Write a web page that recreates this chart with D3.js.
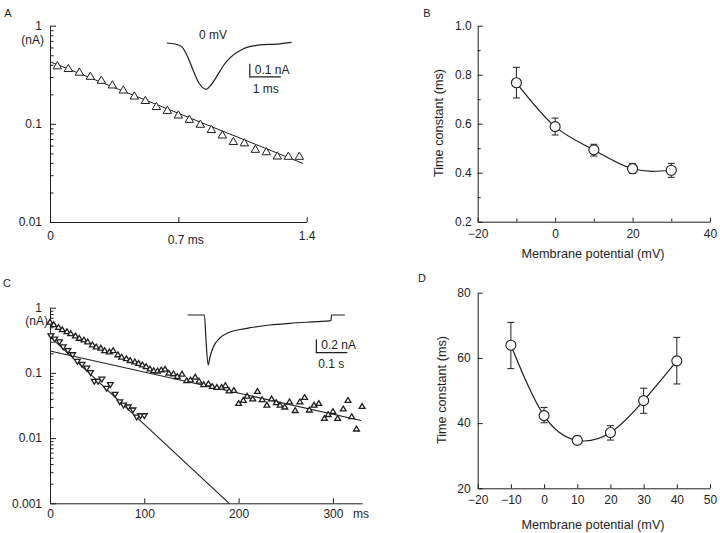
<!DOCTYPE html>
<html><head><meta charset="utf-8">
<script src="https://cdn.jsdelivr.net/npm/d3@7"></script>
<style>body{margin:0;background:#fff}svg{display:block;font-family:"Liberation Sans",Arial,sans-serif}</style>
</head><body><svg id="c" width="720" height="533"></svg>
<script>
// ---------- Panel A data ----------
const aTime = [0.04,0.10,0.16,0.22,0.28,0.34,0.40,0.46,0.52,0.58,0.64,0.70,0.76,0.82,0.88,0.94,1.00,1.06,1.12,1.18,1.24,1.30,1.36];
const aCurrent = [0.39,0.366,0.336,0.305,0.278,0.249,0.221,0.192,0.173,0.150,0.137,0.123,0.111,0.099,0.0875,0.077,0.066,0.064,0.055,0.052,0.047,0.0467,0.0467];
const aFitTime = [0, 1.38];
const aFitCurrent = [0.43, 0.0395];
const aTicksX = [0, 0.7, 1.4];
const aTickLabelsX = ["0", "0.7 ms", "1.4"];
const logTicks = [0.001, 0.01, 0.1, 1];
const logTickLabels = ["0.001", "0.01", "0.1", "1"];
// inset A trace (ms, nA)
const aTraceTime = [0,0.27,0.48,0.65,0.85,1.04,1.27,1.43,1.61,1.82,2.04,2.46,3.01,3.55,4.03];
const aTraceCurrent = [0,-0.008,-0.028,-0.092,-0.208,-0.308,-0.356,-0.323,-0.259,-0.177,-0.115,-0.046,-0.015,-0.008,0.005];

// ---------- Panel B data ----------
const bVoltage = [-10, 0, 10, 20, 30];
const bTau = [0.767, 0.588, 0.493, 0.416, 0.410];
const bErrHi = [0.83, 0.623, 0.516, 0.438, 0.438];
const bErrLo = [0.705, 0.554, 0.468, 0.398, 0.381];
const bTicksY = [0.2, 0.4, 0.6, 0.8, 1.0];
const bMinorY = [0.3, 0.5, 0.7, 0.9];
const bTicksX = [-20, 0, 20, 40];
const bMinorX = [-10, 10, 30];

// ---------- Panel C data ----------
const cSlowTime = [0,4,9,13,18,22,27,31,36,40,45,49,54,58,63,67,72,76,81,85,90,94,98,102,106,110,114,118,122,126,131,135,140,145,149,154,158,163,168,172,177,182,186,190,195,200,205,209,215,220,225,230,235,240,244,249,254,260,265,270,275,280,285,291,295,300,305,311,316,320,325,331];
const cSlowCurrent = [0.60,0.55,0.50,0.46,0.43,0.40,0.37,0.34,0.32,0.30,0.27,0.25,0.24,0.22,0.21,0.22,0.19,0.175,0.165,0.155,0.148,0.14,0.133,0.125,0.115,0.108,0.107,0.111,0.114,0.099,0.097,0.088,0.096,0.076,0.078,0.086,0.075,0.066,0.068,0.062,0.060,0.060,0.064,0.053,0.054,0.034,0.038,0.044,0.040,0.052,0.039,0.032,0.040,0.035,0.032,0.030,0.036,0.0265,0.036,0.042,0.027,0.032,0.034,0.020,0.023,0.0256,0.020,0.028,0.038,0.0214,0.0138,0.0306];
const cFastTime = [1,5,10,14,19,24,29,34,39,43,47,51,55,60,64,69,74,78,83,88,92,96,100];
const cFastCurrent = [0.37,0.33,0.30,0.25,0.22,0.19,0.15,0.135,0.118,0.101,0.074,0.074,0.080,0.058,0.066,0.047,0.036,0.032,0.030,0.027,0.021,0.022,0.022];
const cSlowFitTime = [0, 330];
const cSlowFitCurrent = [0.217, 0.0186];
const cFastFitTime = [0, 190];
const cFastFitCurrent = [0.36, 0.001];
const cTicksX = [0, 100, 200, 300];
// inset C trace (s, nA)
const cTraceTime = [0,0.054,0.059,0.066,0.072,0.083,0.104,0.136,0.169,0.201,0.265,0.330,0.416,0.462,0.464,0.507];
const cTraceCurrent = [0,0,-0.376,-0.75,-0.63,-0.477,-0.346,-0.256,-0.218,-0.191,-0.150,-0.125,-0.100,-0.086,0,0];

// ---------- Panel D data ----------
const dVoltage = [-10, 0, 10, 20, 30, 40];
const dTau = [63.9, 42.3, 34.7, 37.1, 46.9, 59.1];
const dErrHi = [70.9, 44.8, 36.0, 39.2, 50.7, 66.3];
const dErrLo = [56.7, 40.1, 33.6, 34.8, 43.0, 52.0];
const dTicksY = [20, 40, 60, 80];
const dTicksX = [-20, -10, 0, 10, 20, 30, 40, 50];

// ================= drawing =================
const svg = d3.select("#c");
const INK = "#1e1e1e";
const FS = 12;
const TS = 12.7;

function styleAxis(g) {
  g.selectAll("path,line").attr("stroke", INK).attr("stroke-width", 1);
  g.selectAll("text").attr("fill", INK).style("font-size", FS + "px").style("font-family", '"Liberation Sans",Arial,sans-serif');
}
function minorTicks(parent, axisFn, scale, vals, size, transform) {
  const g = parent.append("g").attr("transform", transform).call(axisFn(scale).tickValues(vals).tickSize(size).tickFormat(""));
  g.select(".domain").remove();
  g.selectAll("line").attr("stroke", INK);
}
function label(text, x, y, opts = {}) {
  const t = svg.append("text").attr("x", x).attr("y", y).attr("fill", INK)
    .style("font-size", (opts.size || FS) + "px").attr("text-anchor", opts.anchor || "middle").text(text);
  if (opts.rotate) t.attr("transform", `rotate(-90,${x},${y})`);
  return t;
}
const triUp = "M0,-4.2L4.2,3L-4.2,3Z";
const triUpSmall = "M0,-2.8L2.9,2L-2.9,2Z";
const triDownSmall = "M0,2.8L2.9,-2L-2.9,-2Z";

// ---------- Panel A ----------
{
  const x = d3.scaleLinear().domain([0, 1.4]).range([50, 306.7]);
  const y = d3.scaleLog().domain([0.01, 1]).range([222, 25.7]);
  const gy = svg.append("g").attr("transform", "translate(50,0)")
    .call(d3.axisLeft(y).tickValues([0.01, 0.1, 1]).tickFormat((d, i) => logTickLabels[logTicks.indexOf(d)]).tickSize(-6).tickSizeOuter(0).tickPadding(8));
  styleAxis(gy);
  const minors = [];
  [0.01, 0.1].forEach(b => { for (let k = 2; k <= 9; k++) minors.push(b * k); });
  minorTicks(svg, d3.axisLeft, y, minors, -3.5, "translate(50,0)");
  const gx = svg.append("g").attr("transform", "translate(0,222)")
    .call(d3.axisBottom(x).tickValues(aTicksX).tickFormat((d, i) => aTickLabelsX[i]).tickSize(-5).tickSizeOuter(0).tickPadding(9));
  styleAxis(gx);
  gx.selectAll(".tick text").filter(d => d === 0.7).attr("dx", 7).attr("y", 13);
  label("(nA)", 44, 44, { anchor: "end" });

  svg.append("path").datum(aFitTime.map((t, i) => [t, aFitCurrent[i]]))
    .attr("fill", "none").attr("stroke", INK).attr("stroke-width", 1)
    .attr("d", d3.line().x(d => x(d[0])).y(d => y(d[1])));
  svg.append("g").selectAll("path").data(aTime.map((t, i) => [t, aCurrent[i]])).join("path")
    .attr("d", triUp).attr("transform", d => `translate(${x(d[0])},${y(d[1])})`)
    .attr("fill", "#fff").attr("stroke", INK).attr("stroke-width", 1);

  // inset
  const ix = d3.scaleLinear().domain([0, 1]).range([166.7, 197.7]);
  const iy = d3.scaleLinear().domain([0, -0.1]).range([43, 56]);
  svg.append("path").datum(aTraceTime.map((t, i) => [t, aTraceCurrent[i]]))
    .attr("fill", "none").attr("stroke", INK).attr("stroke-width", 1.2)
    .attr("d", d3.line().curve(d3.curveMonotoneX).x(d => ix(d[0])).y(d => iy(d[1])));
  const sbx = ix(2.68), sby = iy(-0.26);
  const sb = d3.line();
  svg.append("path").attr("fill", "none").attr("stroke", INK).attr("stroke-width", 1.2)
    .attr("d", sb([[sbx, sby - (iy(-0.1) - iy(0))], [sbx, sby], [sbx + (ix(1) - ix(0)), sby]]));
  label("0 mV", 213, 39);
  label("0.1 nA", sbx + 5, sby - 3, { anchor: "start" });
  label("1 ms", sbx + 16, sby + 16);
  label("A", 8, 17, { size: 11 });
}

// ---------- Panel B ----------
{
  const x = d3.scaleLinear().domain([-20, 40]).range([477.7, 710]);
  const y = d3.scaleLinear().domain([0.2, 1.0]).range([221.7, 25.7]);
  const gy = svg.append("g").attr("transform", "translate(477.7,0)")
    .call(d3.axisLeft(y).tickValues(bTicksY).tickFormat(d3.format(".1f")).tickSize(-5).tickSizeOuter(0).tickPadding(6));
  styleAxis(gy);
  minorTicks(svg, d3.axisLeft, y, bMinorY, -3, "translate(477.7,0)");
  const gx = svg.append("g").attr("transform", "translate(0,221.7)")
    .call(d3.axisBottom(x).tickValues(bTicksX).tickSize(-4).tickSizeOuter(0).tickPadding(8));
  styleAxis(gx);
  minorTicks(svg, d3.axisBottom, x, bMinorX, -3, "translate(0,221.7)");
  const pts = bVoltage.map((v, i) => [v, bTau[i]]);
  svg.append("path").datum(pts).attr("fill", "none").attr("stroke", INK).attr("stroke-width", 1.2)
    .attr("d", d3.line().curve(d3.curveNatural).x(d => x(d[0])).y(d => y(d[1])));
  const eg = svg.append("g").attr("stroke", INK).attr("stroke-width", 1);
  bVoltage.forEach((v, i) => {
    eg.append("line").attr("x1", x(v)).attr("x2", x(v)).attr("y1", y(bErrHi[i])).attr("y2", y(bErrLo[i]));
    eg.append("line").attr("x1", x(v) - 3.5).attr("x2", x(v) + 3.5).attr("y1", y(bErrHi[i])).attr("y2", y(bErrHi[i]));
    eg.append("line").attr("x1", x(v) - 3.5).attr("x2", x(v) + 3.5).attr("y1", y(bErrLo[i])).attr("y2", y(bErrLo[i]));
  });
  svg.append("g").selectAll("circle").data(pts).join("circle")
    .attr("cx", d => x(d[0])).attr("cy", d => y(d[1])).attr("r", 5)
    .attr("fill", "#fff").attr("stroke", INK).attr("stroke-width", 1.1);
  label("Time constant (ms)", 443, 123, { rotate: true, size: TS });
  label("Membrane potential (mV)", 593, 258, { size: TS });
  label("B", 427, 17, { size: 11 });
}

// ---------- Panel C ----------
{
  const x = d3.scaleLinear().domain([0, 100]).range([50, 144.3]);
  const y = d3.scaleLog().domain([0.001, 1]).range([503.3, 307.7]);
  const gy = svg.append("g").attr("transform", "translate(50,0)")
    .call(d3.axisLeft(y).tickValues(logTicks).tickFormat((d, i) => logTickLabels[i]).tickSize(-6).tickSizeOuter(0).tickPadding(8));
  styleAxis(gy);
  const minors = [];
  [0.001, 0.01, 0.1].forEach(b => { for (let k = 2; k <= 9; k++) minors.push(b * k); });
  minorTicks(svg, d3.axisLeft, y, minors, -3.5, "translate(50,0)");
  const gx = svg.append("g").attr("transform", "translate(0,503.3)")
    .call(d3.axisBottom(x.copy().domain([0, 331]).range([50, x(331)])).tickValues(cTicksX).tickFormat(d3.format("d")).tickSize(-5).tickSizeOuter(0).tickPadding(6));
  styleAxis(gx);
  label("ms", 361, 518);
  label("(nA)", 48, 325, { anchor: "end" });

  const line = d3.line().x(d => x(d[0])).y(d => y(d[1]));
  svg.append("path").datum(cSlowFitTime.map((t, i) => [t, cSlowFitCurrent[i]]))
    .attr("fill", "none").attr("stroke", INK).attr("stroke-width", 1.1).attr("d", line);
  svg.append("path").datum(cFastFitTime.map((t, i) => [t, cFastFitCurrent[i]]))
    .attr("fill", "none").attr("stroke", INK).attr("stroke-width", 1.1).attr("d", line);
  svg.append("g").selectAll("path").data(cSlowTime.map((t, i) => [t, cSlowCurrent[i]])).join("path")
    .attr("d", triUpSmall).attr("transform", d => `translate(${x(d[0])},${y(d[1])})`)
    .attr("fill", "#fff").attr("stroke", INK).attr("stroke-width", 1.3);
  svg.append("g").selectAll("path").data(cFastTime.map((t, i) => [t, cFastCurrent[i]])).join("path")
    .attr("d", triDownSmall).attr("transform", d => `translate(${x(d[0])},${y(d[1])})`)
    .attr("fill", "#fff").attr("stroke", INK).attr("stroke-width", 1.3);

  // inset
  const ix = d3.scaleLinear().domain([0, 0.1]).range([187.7, 218.7]);
  const iy = d3.scaleLinear().domain([0, -0.2]).range([315, 328.3]);
  svg.append("path").datum(cTraceTime.map((t, i) => [t, cTraceCurrent[i]]))
    .attr("fill", "none").attr("stroke", INK).attr("stroke-width", 1.2)
    .attr("d", d3.line().curve(d3.curveMonotoneX).x(d => ix(d[0])).y(d => iy(d[1])));
  const sbx = ix(0.415), sby = iy(-0.566);
  svg.append("path").attr("fill", "none").attr("stroke", INK).attr("stroke-width", 1.2)
    .attr("d", d3.line()([[sbx, sby - (iy(-0.2) - iy(0))], [sbx, sby], [sbx + (ix(0.1) - ix(0)), sby]]));
  label("0.2 nA", sbx + 5, sby - 4, { anchor: "start" });
  label("0.1 s", sbx + 15, sby + 15);
  label("C", 7, 287, { size: 11 });
}

// ---------- Panel D ----------
{
  const x = d3.scaleLinear().domain([-20, 50]).range([477.7, 710]);
  const y = d3.scaleLinear().domain([20, 80]).range([488.3, 292.7]);
  const gy = svg.append("g").attr("transform", "translate(477.7,0)")
    .call(d3.axisLeft(y).tickValues(dTicksY).tickSize(-5).tickSizeOuter(0).tickPadding(7));
  styleAxis(gy);
  const gx = svg.append("g").attr("transform", "translate(0,488.3)")
    .call(d3.axisBottom(x).tickValues(dTicksX).tickSize(-4).tickSizeOuter(0).tickPadding(7));
  styleAxis(gx);
  const pts = dVoltage.map((v, i) => [v, dTau[i]]);
  svg.append("path").datum(pts).attr("fill", "none").attr("stroke", INK).attr("stroke-width", 1.2)
    .attr("d", d3.line().curve(d3.curveNatural).x(d => x(d[0])).y(d => y(d[1])));
  const eg = svg.append("g").attr("stroke", INK).attr("stroke-width", 1);
  dVoltage.forEach((v, i) => {
    eg.append("line").attr("x1", x(v)).attr("x2", x(v)).attr("y1", y(dErrHi[i])).attr("y2", y(dErrLo[i]));
    eg.append("line").attr("x1", x(v) - 3.5).attr("x2", x(v) + 3.5).attr("y1", y(dErrHi[i])).attr("y2", y(dErrHi[i]));
    eg.append("line").attr("x1", x(v) - 3.5).attr("x2", x(v) + 3.5).attr("y1", y(dErrLo[i])).attr("y2", y(dErrLo[i]));
  });
  svg.append("g").selectAll("circle").data(pts).join("circle")
    .attr("cx", d => x(d[0])).attr("cy", d => y(d[1])).attr("r", 5)
    .attr("fill", "#fff").attr("stroke", INK).attr("stroke-width", 1.1);
  label("Time constant (ms)", 446, 390, { rotate: true, size: TS });
  label("Membrane potential (mV)", 593, 529, { size: TS });
  label("D", 422, 282, { size: 11 });
}
</script></body></html>
